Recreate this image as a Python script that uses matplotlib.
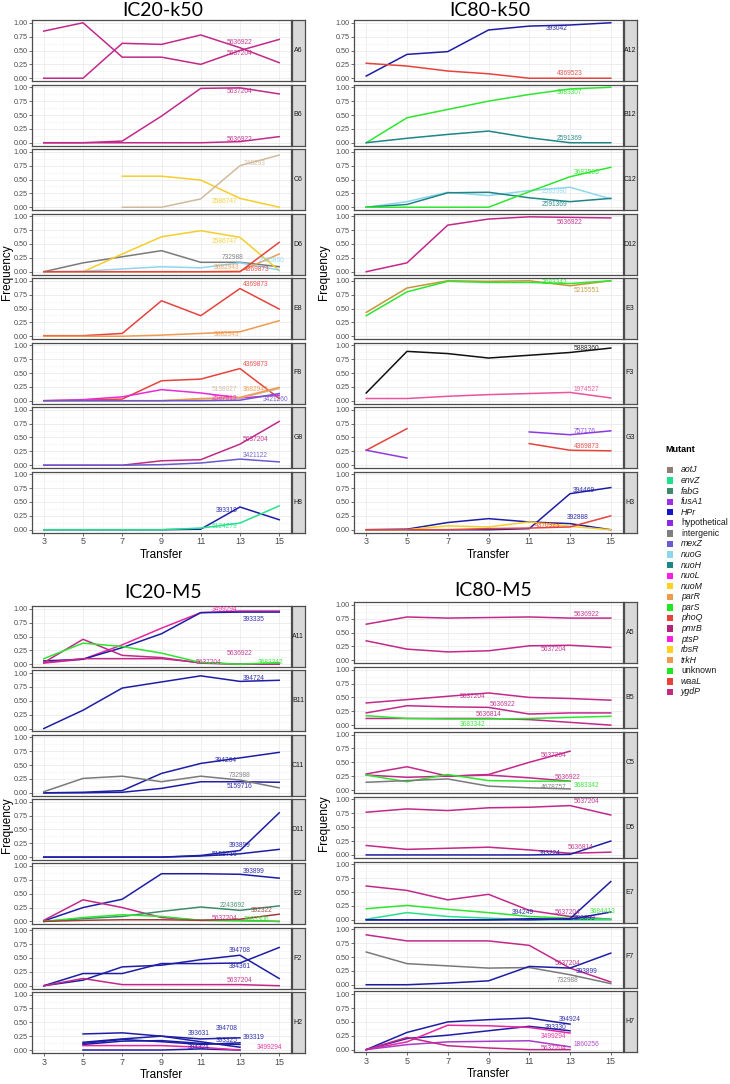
import numpy as np
import matplotlib.pyplot as plt
from matplotlib.patches import Rectangle

# --- --- --- --- ---
# --- DATA ---
# --- --- --- --- ---
nan = np.nan
transfers = [3, 5, 7, 9, 11, 13, 15]
y_ticks = [0, 0.25, 0.5, 0.75, 1.0]
y_tick_labels = ['0.00', '0.25', '0.50', '0.75', '1.00']

# IC20-k50
ic20_k50_panels = ['A6', 'B6', 'C6', 'D6', 'E8', 'F8', 'G8', 'H8']
ic20_k50_series = [
    ('A6', '5637204', [0.85, 1.00, 0.38, 0.38, 0.25, 0.50, 0.70]),
    ('A6', '5636922', [0.00, 0.00, 0.63, 0.61, 0.78, 0.55, 0.28]),
    ('B6', '5637204', [0.00, 0.00, 0.03, 0.48, 0.98, 0.99, 0.88]),
    ('B6', '5636922', [0.00, 0.00, 0.00, 0.00, 0.00, 0.02, 0.11]),
    ('C6', '2586747', [nan, nan, 0.56, 0.56, 0.49, 0.16, 0.00]),
    ('C6', '748293', [nan, nan, 0.00, 0.00, 0.15, 0.75, 0.94]),
    ('D6', '732988', [0.00, 0.16, 0.27, 0.38, 0.17, 0.17, 0.09]),
    ('D6', '2586747', [nan, 0.00, 0.32, 0.63, 0.74, 0.62, 0.02]),
    ('D6', '2586860', [0.00, 0.01, 0.05, 0.09, 0.07, 0.16, 0.03]),
    ('D6', '3682943', [0.00, 0.00, 0.00, 0.00, 0.00, 0.01, 0.32]),
    ('D6', '4369873', [0.00, 0.00, 0.00, 0.00, 0.00, 0.00, 0.53]),
    ('E8', '4369873', [0.01, 0.01, 0.05, 0.64, 0.37, 0.86, 0.49]),
    ('E8', '3682943', [0.00, 0.00, 0.00, 0.02, 0.05, 0.08, 0.28]),
    ('F8', '4369873', [0.00, 0.01, 0.03, 0.36, 0.39, 0.58, 0.04]),
    ('F8', '2587913', [0.00, 0.02, 0.07, 0.20, 0.14, 0.05, 0.10]),
    ('F8', '5138027', [0.00, 0.00, 0.00, 0.00, 0.03, 0.05, 0.22]),
    ('F8', '3682943', [0.00, 0.00, 0.00, 0.00, 0.04, 0.06, 0.24]),
    ('F8', '3421260', [0.00, 0.00, 0.00, 0.00, 0.00, 0.01, 0.13]),
    ('G8', '5637204', [0.00, 0.00, 0.00, 0.08, 0.10, 0.38, 0.79]),
    ('G8', '3421122', [0.00, 0.00, 0.00, 0.01, 0.04, 0.11, 0.06]),
    ('H8', '393318', [0.00, 0.00, 0.00, 0.00, 0.01, 0.41, 0.18]),
    ('H8', '5124279', [0.00, 0.00, 0.00, 0.00, 0.03, 0.12, 0.43]),
]

# IC80-k50
ic80_k50_panels = ['A12', 'B12', 'C12', 'D12', 'E3', 'F3', 'G3', 'H3']
ic80_k50_series = [
    ('A12', '393042', [0.04, 0.43, 0.48, 0.87, 0.94, 0.96, 1.00]),
    ('A12', '4369523', [0.27, 0.22, 0.13, 0.08, 0.00, 0.00, 0.00]),
    ('B12', '3683307', [0.00, 0.45, 0.60, 0.75, 0.87, 0.97, 1.00]),
    ('B12', '2591369', [0.00, 0.08, 0.15, 0.21, 0.09, 0.00, 0.00]),
    ('C12', '2583980', [0.00, 0.10, 0.27, 0.21, 0.30, 0.36, 0.15]),
    ('C12', '2591369', [0.00, 0.05, 0.26, 0.27, 0.17, 0.10, 0.16]),
    ('C12', '3683505', [0.00, 0.00, 0.00, 0.00, 0.28, 0.55, 0.72]),
    ('D12', '5636922', [0.00, 0.16, 0.84, 0.95, 0.99, 0.98, 0.97]),
    ('E3', '5215551', [0.43, 0.87, 1.00, 0.99, 1.00, 0.91, 1.00]),
    ('E3', '3683342', [0.37, 0.80, 0.99, 0.97, 0.97, 0.95, 1.00]),
    ('F3', '5888360', [0.14, 0.89, 0.85, 0.77, 0.82, 0.87, 0.95]),
    ('F3', '1974527', [0.04, 0.04, 0.08, 0.11, 0.13, 0.15, 0.05]),
    ('G3', '4369873', [0.27, 0.66, nan, nan, 0.39, 0.27, 0.26]),
    ('G3', '757176', [0.27, 0.13, nan, nan, 0.60, 0.55, 0.62]),
    ('H3', '394469', [0.00, 0.00, 0.00, 0.00, 0.02, 0.65, 0.76]),
    ('H3', '392888', [0.00, 0.01, 0.13, 0.20, 0.14, 0.11, 0.00]),
    ('H3', '2586747', [0.00, 0.00, 0.07, 0.05, 0.14, 0.06, 0.00]),
    ('H3', '4370323', [0.00, 0.00, 0.00, 0.02, 0.03, 0.05, 0.25]),
]

# IC20-M5
ic20_m5_panels = ['A11', 'B11', 'C11', 'D11', 'E2', 'F2', 'H2']
ic20_m5_series = [
    ('A11', '3499294', [0.02, 0.09, 0.35, 0.65, 0.93, 0.96, 0.96]),
    ('A11', '393335', [0.06, 0.09, 0.30, 0.55, 0.93, 0.94, 0.94]),
    ('A11', '5636922', [0.03, 0.45, 0.16, 0.12, 0.02, 0.00, 0.00]),
    ('A11', '5637204', [0.03, 0.10, 0.10, 0.10, 0.03, 0.00, 0.00]),
    ('A11', '3683342', [0.10, 0.38, 0.32, 0.20, 0.03, 0.00, 0.03]),
    ('B11', '394724', [0.00, 0.33, 0.73, 0.84, 0.95, 0.85, 0.87]),
    ('C11', '394264', [0.00, 0.01, 0.04, 0.35, 0.53, 0.63, 0.73]),
    ('C11', '5159716', [0.00, 0.00, 0.01, 0.08, 0.20, 0.20, 0.19]),
    ('C11', '732988', [0.02, 0.26, 0.30, 0.20, 0.30, 0.23, 0.09]),
    ('D11', '393899', [0.00, 0.00, 0.00, 0.00, 0.03, 0.12, 0.80]),
    ('D11', '5159716', [0.00, 0.00, 0.00, 0.00, 0.02, 0.06, 0.14]),
    ('E2', '393899', [0.01, 0.25, 0.40, 0.86, 0.86, 0.85, 0.78]),
    ('E2', '5637204', [0.02, 0.39, 0.25, 0.07, 0.02, 0.02, 0.00]),
    ('E2', '2243692', [0.00, 0.05, 0.09, 0.18, 0.26, 0.20, 0.28]),
    ('E2', '3683306', [0.00, 0.07, 0.12, 0.09, 0.02, 0.01, 0.00]),
    ('E2', '392322', [0.00, 0.02, 0.03, 0.03, 0.02, 0.04, 0.13]),
    ('F2', '394708', [0.00, 0.10, 0.34, 0.37, 0.47, 0.55, 0.13]),
    ('F2', '394361', [0.00, 0.22, 0.22, 0.40, 0.40, 0.41, 0.69]),
    ('F2', '5637204', [0.00, 0.13, 0.02, 0.02, 0.02, 0.02, 0.00]),
    ('H2', '394708', [nan, 0.29, 0.31, 0.25, 0.20, 0.22, nan]),
    ('H2', '393631', [nan, 0.14, 0.20, 0.25, 0.15, 0.05, nan]),
    ('H2', '393319', [nan, 0.10, 0.16, 0.17, 0.12, 0.10, nan]),
    ('H2', '393325', [nan, 0.12, 0.19, 0.15, 0.10, 0.13, nan]),
    ('H2', '394324', [nan, 0.00, 0.00, 0.00, 0.02, 0.00, nan]),
    ('H2', '3499294', [nan, 0.08, 0.08, 0.08, 0.05, 0.00, nan]),
]

# IC80-M5
ic80_m5_panels = ['A5', 'B5', 'C5', 'D5', 'E7', 'F7', 'H7']
ic80_m5_series = [
    ('A5', '5636922', [0.65, 0.78, 0.76, 0.77, 0.78, 0.76, 0.76]),
    ('A5', '5637204', [0.35, 0.20, 0.15, 0.17, 0.26, 0.27, 0.23]),
    ('B5', '5637204', [0.40, 0.46, 0.52, 0.58, 0.50, 0.48, 0.45]),
    ('B5', '5636922', [0.22, 0.35, 0.33, 0.32, 0.20, 0.22, 0.22]),
    ('B5', '5636814', [0.12, 0.12, 0.12, 0.12, 0.10, 0.05, 0.00]),
    ('B5', '3683342', [0.17, 0.12, 0.11, 0.11, 0.12, 0.14, 0.16]),
    ('C5', '5637204', [0.27, 0.23, 0.25, 0.28, 0.50, 0.70, nan]),
    ('C5', '5636922', [0.29, 0.42, 0.25, 0.27, 0.22, 0.16, nan]),
    ('C5', '3683342', [0.27, 0.15, 0.28, 0.17, 0.16, 0.16, nan]),
    ('C5', '4678757', [0.14, 0.17, 0.20, 0.07, 0.04, 0.02, nan]),
    ('D5', '5637204', [0.77, 0.83, 0.80, 0.85, 0.86, 0.89, 0.72]),
    ('D5', '5636814', [0.17, 0.10, 0.12, 0.14, 0.09, 0.03, 0.05]),
    ('D5', '393224', [0.00, 0.00, 0.00, 0.00, 0.00, 0.01, 0.25]),
    ('E7', '5637204', [0.61, 0.53, 0.36, 0.46, 0.17, 0.06, 0.01]),
    ('E7', '3684413', [0.20, 0.26, 0.19, 0.13, 0.06, 0.03, 0.01]),
    ('E7', '5124279', [0.01, 0.13, 0.06, 0.03, 0.00, 0.00, 0.00]),
    ('E7', '393899', [0.00, 0.00, 0.00, 0.00, 0.00, 0.02, 0.69]),
    ('E7', '394249', [0.00, 0.00, 0.00, 0.00, 0.02, 0.01, 0.14]),
    ('F7', '5637204', [0.90, 0.79, 0.79, 0.79, 0.71, 0.30, 0.05]),
    ('F7', '732988', [0.59, 0.38, 0.34, 0.30, 0.31, 0.18, 0.02]),
    ('F7', '393899', [0.00, 0.00, 0.03, 0.07, 0.33, 0.30, 0.57]),
    ('H7', '394924', [0.00, 0.31, 0.50, 0.54, 0.57, 0.46, nan]),
    ('H7', '393330', [0.00, 0.20, 0.26, 0.34, 0.42, 0.34, nan]),
    ('H7', '3499294', [0.00, 0.14, 0.44, 0.43, 0.40, 0.30, nan]),
    ('H7', '1860256', [0.00, 0.09, 0.14, 0.15, 0.16, 0.05, nan]),
    ('H7', '5637204', [0.00, 0.22, 0.07, 0.03, 0.00, 0.00, nan]),
]

mutant_genes = ['aotJ', 'envZ', 'fabG', 'fusA1', 'HPr', 'hypothetical', 'intergenic',
                'mexZ', 'nuoG', 'nuoH', 'nuoL', 'nuoM', 'parR', 'parS', 'phoQ', 'pmrB',
                'ptsP', 'rbsR', 'trkH', 'unknown', 'waaL', 'ygdP']

# --- --- --- --- ---
# --- STYLE ---
# --- --- --- --- ---
gene_colours = ['#8C7E76', '#1FE08A', '#3E8B6B', '#9B30E8', '#1515C8', '#8A2BE2', '#7F7F7F',
                '#6A5ACD', '#8ED6EC', '#1E8585', '#FF1CE6', '#FFD21F', '#EE9A4D', '#22E622',
                '#E8403A', '#B5247A', '#FF1CE0', '#FFD21F', '#EE9A4D', '#22E622', '#E8403A',
                '#C42B7E']

vr, navy, red, green = '#C2298A', '#1E1EA5', '#E5433D', '#2EE62E'
mut_colours = {
    '5637204': vr, '5636922': vr, '5636814': vr,
    '748293': '#D0BA9C', '5138027': '#D0BA9C', '2586747': '#F4CE2A',
    '732988': '#7A7A7A', '4678757': '#7A7A7A',
    '2586860': '#8FD6EE', '2583980': '#8FD6EE', '3682943': '#EE9A50',
    '4369873': red, '4369523': red, '4370323': red,
    '2587913': '#E82AD8', '3421260': '#6A5ACD', '3421122': '#6A5ACD',
    '5124279': '#28E08C', '3683307': green, '3683505': green, '3683342': green,
    '3683306': green, '3684413': green, '2591369': '#1F8585', '5215551': '#C4973A',
    '5888360': '#111111', '1974527': '#E9559F', '757176': '#8B3BE0',
    '3499294': '#E8269F', '1860256': '#A93CC9', '2243692': '#3E8B6B', '392322': '#9E4037',
}

# label positions (ggrepel-like)
ic20_k50_labels = {
    ('A6', '5636922'): (13.0, 0.65), ('A6', '5637204'): (13.0, 0.44),
    ('B6', '5637204'): (13.0, 0.92), ('B6', '5636922'): (13.0, 0.06),
    ('C6', '748293'): (13.75, 0.79), ('C6', '2586747'): (12.2, 0.10),
    ('D6', '2586747'): (12.2, 0.55), ('D6', '732988'): (12.6, 0.25),
    ('D6', '2586860'): (14.6, 0.20), ('D6', '3682943'): (12.3, 0.07),
    ('D6', '4369873'): (13.85, 0.04),
    ('E8', '4369873'): (13.8, 0.93), ('E8', '3682943'): (12.3, 0.04),
    ('F8', '4369873'): (13.8, 0.65), ('F8', '5138027'): (12.2, 0.20),
    ('F8', '3682943'): (13.8, 0.20), ('F8', '2587913'): (12.2, 0.04),
    ('F8', '3421260'): (14.8, 0.02),
    ('G8', '5637204'): (13.8, 0.46), ('G8', '3421122'): (13.8, 0.17),
    ('H8', '393318'): (12.3, 0.35), ('H8', '5124279'): (12.2, 0.05),
}
ic80_k50_labels = {
    ('A12', '393042'): (12.35, 0.89), ('A12', '4369523'): (13.0, 0.08),
    ('B12', '3683307'): (13.0, 0.90), ('B12', '2591369'): (13.0, 0.08),
    ('C12', '3683505'): (13.8, 0.62), ('C12', '2583980'): (12.25, 0.29),
    ('C12', '2591369'): (12.25, 0.05),
    ('D12', '5636922'): (13.0, 0.89),
    ('E3', '3683342'): (12.25, 0.97), ('E3', '5215551'): (13.8, 0.82),
    ('F3', '5888360'): (13.8, 0.94), ('F3', '1974527'): (13.8, 0.21),
    ('G3', '757176'): (13.7, 0.60), ('G3', '4369873'): (13.8, 0.34),
    ('H3', '394469'): (13.7, 0.71), ('H3', '392888'): (13.4, 0.22),
    ('H3', '4370323'): (11.9, 0.08),
}
ic20_m5_labels = {
    ('A11', '3499294'): (12.24, 0.98), ('A11', '393335'): (13.7, 0.81),
    ('A11', '5636922'): (13.0, 0.20), ('A11', '5637204'): (11.4, 0.04),
    ('A11', '3683342'): (14.56, 0.04),
    ('B11', '394724'): (13.7, 0.91),
    ('C11', '394264'): (12.3, 0.58), ('C11', '732988'): (13.0, 0.32),
    ('C11', '5159716'): (13.0, 0.11),
    ('D11', '393899'): (13.0, 0.21), ('D11', '5159716'): (12.2, 0.04),
    ('E2', '393899'): (13.7, 0.90), ('E2', '2243692'): (12.6, 0.29),
    ('E2', '392322'): (14.1, 0.20), ('E2', '5637204'): (12.2, 0.05),
    ('E2', '3683306'): (13.85, 0.04),
    ('F2', '394708'): (13.0, 0.64), ('F2', '394361'): (13.0, 0.34),
    ('F2', '5637204'): (13.0, 0.10),
    ('H2', '393631'): (10.9, 0.29), ('H2', '394708'): (12.3, 0.38),
    ('H2', '393325'): (12.3, 0.18), ('H2', '393319'): (13.7, 0.22),
    ('H2', '394324'): (10.9, 0.05), ('H2', '3499294'): (14.5, 0.05),
}
ic80_m5_labels = {
    ('A5', '5636922'): (13.8, 0.83), ('A5', '5637204'): (12.2, 0.19),
    ('B5', '5637204'): (8.2, 0.51), ('B5', '5636922'): (9.7, 0.38),
    ('B5', '5636814'): (9.0, 0.19), ('B5', '3683342'): (8.2, 0.01),
    ('C5', '5637204'): (12.2, 0.63), ('C5', '5636922'): (12.9, 0.22),
    ('C5', '4678757'): (12.2, 0.04), ('C5', '3683342'): (13.8, 0.08),
    ('D5', '5637204'): (13.8, 0.97), ('D5', '5636814'): (13.5, 0.14),
    ('D5', '393224'): (12.0, 0.02),
    ('E7', '394249'): (10.7, 0.14), ('E7', '5637204'): (12.9, 0.14),
    ('E7', '3684413'): (14.6, 0.15), ('E7', '393899'): (13.7, 0.02),
    ('F7', '5637204'): (12.9, 0.38), ('F7', '393899'): (13.8, 0.23),
    ('F7', '732988'): (12.9, 0.08),
    ('H7', '394924'): (13.0, 0.54), ('H7', '393330'): (12.3, 0.40),
    ('H7', '3499294'): (12.2, 0.23), ('H7', '1860256'): (13.8, 0.10),
    ('H7', '5637204'): (12.2, 0.02),
}

W, H = 730, 1084
plt.rcParams['font.family'] = ['Liberation Sans', 'DejaVu Sans']
line_width = 1.1
label_fontsize = 4.8
tick_fontsize_y = 5.2
tick_fontsize_x = 6.5
axis_fontsize = 8.5
title_fontsize = 14
border_col = '#4D4D4D'

fig = plt.figure(figsize=(W / 100, H / 100), dpi=100)


def colour_of(mid):
    # HPr mutations (all 39xxxx) are dark blue
    return mut_colours.get(mid, navy)


def px_axes(x0, y_top, w, h):
    return fig.add_axes([x0 / W, 1 - (y_top + h) / H, w / W, h / H])


def draw_group(title, panels, series, labels, x0, x1, top, pitch, h, title_xy, ylab_x):
    for i, p in enumerate(panels):
        yt = top + i * pitch
        ax = px_axes(x0, yt, x1 - x0, h)
        ax.set_xlim(2.4, 15.6)
        ax.set_ylim(-0.05, 1.05)
        ax.set_xticks(transfers)
        ax.set_xticks([4, 6, 8, 10, 12, 14], minor=True)
        ax.set_yticks(y_ticks)
        ax.set_yticks([0.125, 0.375, 0.625, 0.875], minor=True)
        ax.set_yticklabels(y_tick_labels)
        ax.grid(True, which='major', color='#EBEBEB', lw=0.6)
        ax.grid(True, which='minor', color='#F4F4F4', lw=0.4)
        ax.set_axisbelow(True)
        for s in ax.spines.values():
            s.set_color(border_col)
            s.set_linewidth(0.9)
        ax.tick_params(axis='y', which='major', labelsize=tick_fontsize_y, length=2,
                       width=0.5, color='#333333', labelcolor='#4D4D4D', pad=1)
        ax.tick_params(which='minor', length=0)
        if i == len(panels) - 1:
            ax.tick_params(axis='x', which='major', labelsize=tick_fontsize_x, length=2,
                           width=0.5, color='#333333', labelcolor='#4D4D4D', pad=1.5)
        else:
            ax.tick_params(axis='x', which='major', length=0, labelbottom=False)

        for pp, mid, vals in series:
            if pp == p:
                ax.plot(transfers, vals, color=colour_of(mid), lw=line_width,
                        solid_joinstyle='round')
        for (pp, mid), (lx, ly) in labels.items():
            if pp == p:
                ax.text(lx, ly, mid, color=colour_of(mid), fontsize=label_fontsize,
                        ha='center', va='center', alpha=0.9)

        # facet strip on the right
        st = px_axes(x1 + 0.5, yt, 13, h)
        st.set_facecolor('#D9D9D9')
        st.set_xticks([])
        st.set_yticks([])
        for s in st.spines.values():
            s.set_color(border_col)
            s.set_linewidth(0.9)
        st.text(0.5, 0.5, p, fontsize=5, ha='center', va='center', color='#1A1A1A',
                transform=st.transAxes)

    bottom = top + (len(panels) - 1) * pitch + h
    fig.text((x0 + x1) / 2 / W, 1 - (bottom + 22) / H, 'Transfer',
             fontsize=axis_fontsize, ha='center', va='center')
    fig.text(ylab_x / W, 1 - ((top + bottom) / 2 - 4) / H, 'Frequency', rotation=90,
             fontsize=axis_fontsize, ha='center', va='center')
    fig.text(title_xy[0] / W, 1 - title_xy[1] / H, title, fontsize=title_fontsize,
             ha='center', va='center', family='Lato')


draw_group('IC20-k50', ic20_k50_panels, ic20_k50_series, ic20_k50_labels,
           32, 291, 20, 64.5, 61, (163, 10), 7)
draw_group('IC80-k50', ic80_k50_panels, ic80_k50_series, ic80_k50_labels,
           354, 623, 20, 64.5, 61, (490, 10), 324)
draw_group('IC20-M5', ic20_m5_panels, ic20_m5_series, ic20_m5_labels,
           32, 291, 606, 64.3, 61, (163, 593), 7)
draw_group('IC80-M5', ic80_m5_panels, ic80_m5_series, ic80_m5_labels,
           354, 623, 602, 64.9, 61, (493, 591), 324)

# --- legend ---
fig.text(665 / W, 1 - 449 / H, 'Mutant', fontsize=6.5, fontweight='bold',
         ha='left', va='center')
for k, (g, c) in enumerate(zip(mutant_genes, gene_colours)):
    yc = 470 + k * 10.57
    fig.add_artist(Rectangle((667 / W, 1 - (yc + 3.2) / H), 6.4 / W, 6.4 / H,
                             transform=fig.transFigure, facecolor=c, edgecolor='none'))
    style = 'normal' if g in ('hypothetical', 'intergenic', 'unknown') else 'italic'
    fig.text(681 / W, 1 - yc / H, g, fontsize=6.3, fontstyle=style,
             ha='left', va='center', color='#1A1A1A')

plt.savefig('out.png', dpi=100)
